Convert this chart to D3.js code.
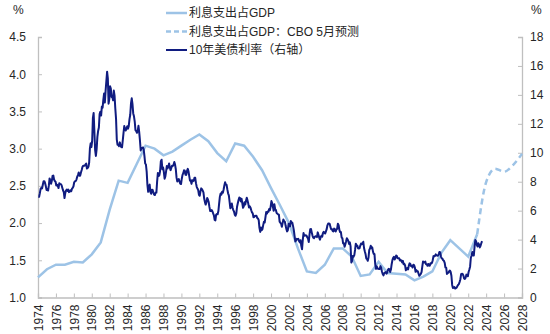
<!DOCTYPE html>
<html>
<head>
<meta charset="utf-8">
<script src="https://cdn.jsdelivr.net/npm/d3@7/dist/d3.min.js"></script>
<style>
  body { margin: 0; background: #fff; }
  text { font-family: "Liberation Sans", Arial, "Noto Sans CJK SC", sans-serif; fill: #262626; }
</style>
</head>
<body>
<div id="chart"></div>
<script>
// interest payments as % of GDP (left axis), annual
var interestYears = [1974,1975,1976,1977,1978,1979,1980,1981,1982,1983,1984,1985,1986,1987,1988,1989,1990,1991,1992,1993,1994,1995,1996,1997,1998,1999,2000,2001,2002,2003,2004,2005,2006,2007,2008,2009,2010,2011,2012,2013,2014,2015,2016,2017,2018,2019,2020,2021,2022,2023];
var interestPct = [1.27,1.38,1.44,1.44,1.48,1.47,1.58,1.74,2.18,2.57,2.54,2.79,3.04,3.00,2.91,2.96,3.04,3.12,3.19,3.10,2.94,2.83,3.07,3.04,2.89,2.71,2.47,2.24,2.00,1.66,1.35,1.33,1.44,1.66,1.66,1.55,1.29,1.31,1.48,1.33,1.32,1.31,1.23,1.28,1.35,1.60,1.77,1.66,1.55,1.85];

// CBO May projection (dashed)
var cboYears = [2023,2024,2025,2026,2027,2028];
var cboPct = [1.85,2.55,2.73,2.69,2.78,2.93];

// 10y treasury yield, monthly, Jan 1974 onward (right axis)
var yieldStart = 1974;
var yield10y = [
  6.99,6.96,7.21,7.51,7.58,7.54,7.81,8.04,8.04,7.90,7.68,7.43,
  7.50,7.39,7.73,8.23,8.06,7.86,8.06,8.40,8.43,8.15,8.05,8.00,
  7.74,7.79,7.73,7.56,7.90,7.86,7.83,7.77,7.59,7.41,7.29,6.87,
  7.21,7.39,7.46,7.37,7.46,7.28,7.33,7.40,7.34,7.52,7.58,7.69,
  7.96,8.03,8.04,8.15,8.35,8.46,8.64,8.41,8.42,8.64,8.81,9.01,
  9.10,9.10,9.12,9.18,9.25,8.91,8.95,9.03,9.33,10.30,10.65,10.39,
  10.80,12.41,12.75,11.47,10.18,9.78,10.25,11.10,11.51,11.75,12.68,12.84,
  12.57,13.19,13.12,13.68,14.10,13.47,14.28,14.94,15.60,15.15,13.39,13.72,
  14.59,14.43,13.86,13.87,13.62,14.30,13.95,13.06,12.34,10.91,10.55,10.54,
  10.46,10.72,10.51,10.40,10.38,10.85,11.38,11.85,11.65,11.54,11.69,11.83,
  11.67,11.84,12.32,12.63,13.41,13.76,13.36,12.72,12.52,12.16,11.57,11.50,
  11.38,11.51,11.86,11.43,10.85,10.16,10.31,10.33,10.37,10.24,9.78,9.26,
  9.19,8.70,7.78,7.30,7.71,7.80,7.30,7.17,7.45,7.43,7.25,7.11,
  7.08,7.25,7.25,8.02,8.61,8.40,8.45,8.76,9.42,9.52,8.86,8.99,
  8.67,8.21,8.37,8.72,9.09,8.92,9.06,9.26,8.98,8.80,8.96,9.11,
  9.09,9.17,9.36,9.18,8.86,8.28,8.02,8.11,8.19,8.01,7.87,7.84,
  8.21,8.47,8.59,8.79,8.76,8.48,8.47,8.75,8.89,8.72,8.39,8.08,
  8.09,7.85,8.11,8.04,8.07,8.28,8.27,7.90,7.65,7.53,7.42,7.09,
  7.03,7.34,7.54,7.48,7.39,7.26,6.84,6.59,6.42,6.59,6.87,6.77,
  6.60,6.26,5.98,5.97,6.04,5.96,5.81,5.68,5.36,5.33,5.72,5.77,
  5.75,5.97,6.48,6.97,7.18,7.10,7.30,7.24,7.46,7.74,7.96,7.81,
  7.78,7.47,7.20,7.06,6.63,6.17,6.28,6.49,6.20,6.04,5.93,5.71,
  5.65,5.81,6.27,6.51,6.74,6.91,6.87,6.64,6.83,6.53,6.20,6.30,
  6.58,6.42,6.69,6.89,6.71,6.49,6.22,6.30,6.21,6.03,5.88,5.81,
  5.54,5.57,5.65,5.64,5.65,5.50,5.46,5.34,4.81,4.53,4.83,4.65,
  4.72,5.00,5.23,5.18,5.54,5.90,5.79,5.94,5.92,6.11,6.03,6.28,
  6.66,6.52,6.26,5.99,6.44,6.10,6.05,5.83,5.80,5.74,5.72,5.24,
  5.16,5.10,4.89,5.14,5.39,5.28,5.24,4.97,4.73,4.57,4.65,5.09,
  5.04,4.91,5.28,5.21,5.16,4.93,4.65,4.26,3.87,3.94,4.05,4.03,
  4.05,3.90,3.81,3.96,3.57,3.33,3.98,4.45,4.27,4.29,4.30,4.27,
  4.15,4.08,3.83,4.35,4.72,4.73,4.50,4.28,4.13,4.10,4.19,4.23,
  4.22,4.17,4.50,4.34,4.14,4.00,4.18,4.26,4.20,4.46,4.54,4.47,
  4.42,4.57,4.72,4.99,5.11,5.11,5.09,4.88,4.72,4.73,4.60,4.56,
  4.76,4.72,4.56,4.69,4.75,5.10,5.00,4.67,4.52,4.53,4.15,4.10,
  3.74,3.74,3.51,3.68,3.88,4.10,4.01,3.89,3.69,3.81,3.53,2.42,
  2.52,2.87,2.82,2.93,3.29,3.72,3.56,3.59,3.40,3.39,3.40,3.59,
  3.73,3.69,3.73,3.85,3.42,3.20,3.01,2.70,2.65,2.54,2.76,3.29,
  3.39,3.58,3.41,3.46,3.17,3.00,3.00,2.30,1.98,2.15,2.01,1.98,
  1.97,1.97,2.17,2.05,1.80,1.62,1.53,1.68,1.72,1.75,1.65,1.72,
  1.91,1.98,1.96,1.76,1.93,2.30,2.58,2.74,2.81,2.62,2.72,2.90,
  2.86,2.71,2.72,2.71,2.56,2.60,2.54,2.42,2.53,2.30,2.33,2.21,
  1.88,1.98,2.04,1.94,2.20,2.36,2.32,2.17,2.17,2.07,2.26,2.24,
  2.09,1.78,1.89,1.81,1.81,1.64,1.50,1.56,1.63,1.76,2.14,2.49,
  2.43,2.42,2.48,2.30,2.30,2.19,2.32,2.21,2.20,2.36,2.35,2.40,
  2.58,2.86,2.84,2.87,2.98,2.91,2.89,2.89,3.00,3.15,3.12,2.83,
  2.71,2.68,2.57,2.53,2.40,2.07,2.06,1.63,1.70,1.71,1.81,1.86,
  1.76,1.50,0.87,0.66,0.67,0.73,0.62,0.65,0.68,0.79,0.87,0.93,
  1.08,1.26,1.61,1.64,1.62,1.52,1.32,1.28,1.37,1.58,1.56,1.47,
  1.76,1.93,2.13,2.75,2.90,3.14,2.90,2.90,3.52,3.98,3.89,3.62,
  3.53,3.75,3.66,3.46,3.57,3.75,3.90
];

var xTicks = [1974,1976,1978,1980,1982,1984,1986,1988,1990,1992,1994,1996,1998,2000,2002,2004,2006,2008,2010,2012,2014,2016,2018,2020,2022,2024,2026,2028];
var leftTicks = [1.0,1.5,2.0,2.5,3.0,3.5,4.0,4.5];
var rightTicks = [0,2,4,6,8,10,12,14,16,18];
var legendNames = ["利息支出占GDP", "利息支出占GDP：CBO 5月预测", "10年美债利率（右轴）"];

var width = 550, height = 334;
var plotLeft = 38, plotRight = 522, plotTop = 37, plotBottom = 297.5;
var lightBlue = "#9DC3E6", navy = "#101C80", axisGray = "#BFBFBF";

var svg = d3.select("#chart").append("svg")
    .attr("width", width)
    .attr("height", height);

var x = d3.scaleLinear().domain([1974, 2028]).range([plotLeft, plotRight]);
var yL = d3.scaleLinear().domain([1.0, 4.5]).range([plotBottom, plotTop]);
var yR = d3.scaleLinear().domain([0, 18]).range([plotBottom, plotTop]);

// axes
var xAxis = svg.append("g")
    .attr("transform", `translate(0, ${plotBottom})`)
    .call(d3.axisBottom(x).tickValues(xTicks).tickSize(-4).tickFormat(d3.format("d")));
xAxis.selectAll("text")
    .attr("transform", "rotate(-90)")
    .attr("x", -7).attr("y", 0).attr("dy", "0.35em")
    .style("text-anchor", "end");

var leftAxis = svg.append("g")
    .attr("transform", `translate(${plotLeft}, 0)`)
    .call(d3.axisLeft(yL).tickValues(leftTicks).tickSize(-4).tickFormat(d3.format(".1f")));
leftAxis.selectAll("text").attr("x", -12);

var rightAxis = svg.append("g")
    .attr("transform", `translate(${plotRight}, 0)`)
    .call(d3.axisRight(yR).tickValues(rightTicks).tickSize(-4).tickFormat(d3.format("d")));
rightAxis.selectAll("text").attr("x", 8);

svg.selectAll(".domain").attr("stroke", axisGray).attr("stroke-width", 1.3);
svg.selectAll(".tick line").attr("stroke", axisGray);
svg.selectAll(".tick text").attr("font-size", 12).attr("fill", "#262626")
    .attr("font-family", '"Liberation Sans", Arial, sans-serif');

svg.append("text").attr("x", 13).attr("y", 14).attr("font-size", 12).text("%");
svg.append("text").attr("x", 531).attr("y", 14).attr("font-size", 12).text("%");

// lines
var interestData = interestYears.map(function(d, i) { return [d, interestPct[i]]; });
var cboData = cboYears.map(function(d, i) { return [d, cboPct[i]]; });
var yieldData = yield10y.map(function(v, i) { return [yieldStart + (i + 0.5) / 12, v]; });

var lineL = d3.line()
    .x(function(d) { return x(d[0]); })
    .y(function(d) { return yL(d[1]); });
var lineR = d3.line()
    .x(function(d) { return x(d[0]); })
    .y(function(d) { return yR(d[1]); });

svg.append("path")
    .datum(interestData)
    .attr("d", lineL)
    .attr("fill", "none")
    .attr("stroke", lightBlue)
    .attr("stroke-width", 2.5);

svg.append("path")
    .datum(cboData)
    .attr("d", lineL.curve(d3.curveMonotoneX))
    .attr("fill", "none")
    .attr("stroke", lightBlue)
    .attr("stroke-width", 2.5)
    .attr("stroke-dasharray", "6,4");

svg.append("path")
    .datum(yieldData)
    .attr("d", lineR)
    .attr("fill", "none")
    .attr("stroke", navy)
    .attr("stroke-width", 2)
    .attr("stroke-linejoin", "round");

// legend
var legend = svg.append("g").attr("transform", "translate(166, 13)");
legendNames.forEach(function(name, i) {
    var row = legend.append("g").attr("transform", `translate(0, ${i * 18.5})`);
    row.append("line")
        .attr("x1", 0).attr("x2", 21)
        .attr("stroke", i === 2 ? navy : lightBlue)
        .attr("stroke-width", i === 2 ? 2 : 2.5)
        .attr("stroke-dasharray", i === 1 ? "5,3" : null);
    row.append("text")
        .attr("x", 23).attr("dy", "0.36em")
        .attr("font-size", 12)
        .text(name);
});
</script>
</body>
</html>
